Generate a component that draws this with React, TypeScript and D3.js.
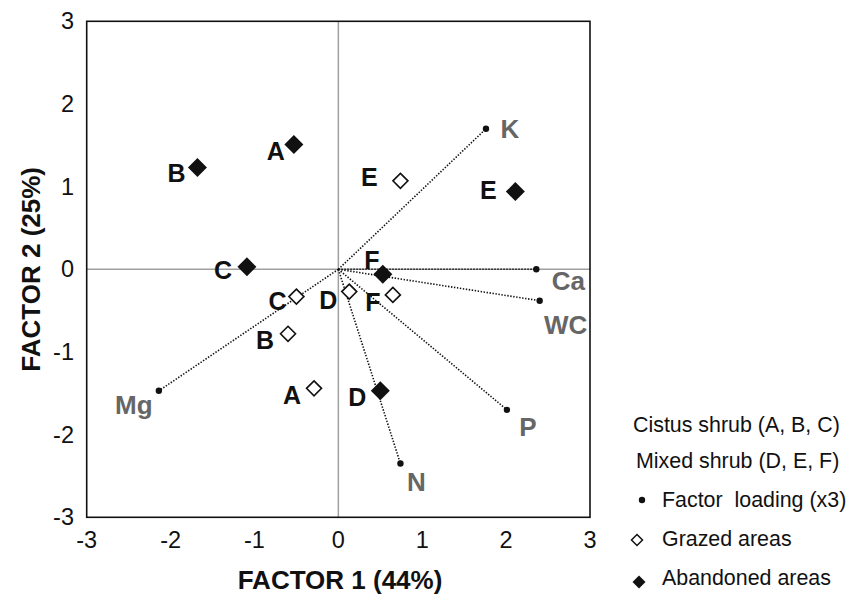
import React from "react";
import * as d3 from "d3";

const siteLetters = ["A", "B", "C", "D", "E", "F"];
const abandonedX = [-0.53, -1.68, -1.09, 0.5, 2.11, 0.53];
const abandonedY = [1.51, 1.23, 0.03, -1.47, 0.94, -0.06];
const grazedX = [-0.29, -0.6, -0.5, 0.13, 0.74, 0.65];
const grazedY = [-1.44, -0.78, -0.33, -0.27, 1.07, -0.31];
// label offsets in px (dx, dy) to position letters left of markers
const abandonedLabelDx = [-18, -21, -24, -23, -27, -11];
const abandonedLabelDy = [7, 5, 3, 6, -2, -14];
const grazedLabelDx = [-22, -23, -19, -21, -31, -20];
const grazedLabelDy = [7, 6, 4, 8, -4, 7];

const loadingNames = ["K", "Ca", "WC", "P", "N", "Mg"];
const loadingX = [1.76, 2.36, 2.4, 2.01, 0.74, -2.14];
const loadingY = [1.7, 0.0, -0.38, -1.7, -2.35, -1.47];
const loadingLabelDx = [24, 32, 26, 21, 16, -25];
const loadingLabelDy = [0, 12, 24, 17, 18, 14];

const ticks = [-3, -2, -1, 0, 1, 2, 3];
const xTitle = "FACTOR 1 (44%)";
const yTitle = "FACTOR 2 (25%)";
const legendText = [
  "Cistus shrub (A, B, C)",
  "Mixed shrub (D, E, F)",
  "Factor  loading (x3)",
  "Grazed areas",
  "Abandoned areas",
];

const W = 862;
const H = 594;
const left = 86.7, right = 590, top = 21.3, bottom = 517.3;
const font = "Arial, 'Liberation Sans', Helvetica, sans-serif";

export default function App() {
  const x = d3.scaleLinear().domain([-3, 3]).range([left, right]);
  const y = d3.scaleLinear().domain([-3, 3]).range([bottom, top]);
  const diamond = (cx: number, cy: number, r: number) =>
    `M${cx},${cy - r}L${cx + r},${cy}L${cx},${cy + r}L${cx - r},${cy}Z`;

  return (
    <div style={{ position: "absolute", left: 0, top: 0 }}>
      <svg width={W} height={H} style={{ display: "block" }} fontFamily={font}>
        <rect width={W} height={H} fill="#fff" />
        {/* zero lines */}
        <line x1={x(0)} x2={x(0)} y1={top} y2={bottom} stroke="#a0a0a0" strokeWidth={1.5} />
        <line x1={left} x2={right} y1={y(0)} y2={y(0)} stroke="#a0a0a0" strokeWidth={1.5} />
        {/* loading vectors */}
        {loadingNames.map((n, i) => (
          <line
            key={"l" + n}
            x1={x(0)}
            y1={y(0)}
            x2={x(loadingX[i])}
            y2={y(loadingY[i])}
            stroke="#111"
            strokeWidth={1.6}
            strokeDasharray="1.4,1.6"
          />
        ))}
        {loadingNames.map((n, i) => (
          <g key={"p" + n}>
            <circle cx={x(loadingX[i])} cy={y(loadingY[i])} r={3.2} fill="#111" />
            <text
              x={x(loadingX[i]) + loadingLabelDx[i]}
              y={y(loadingY[i]) + loadingLabelDy[i]}
              fontSize={26}
              fontWeight="bold"
              fill="#666"
              textAnchor="middle"
              dominantBaseline="central"
            >
              {n}
            </text>
          </g>
        ))}
        {/* grazed */}
        {siteLetters.map((s, i) => (
          <g key={"g" + s}>
            <path d={diamond(x(grazedX[i]), y(grazedY[i]), 7.5)} fill="#fff" stroke="#111" strokeWidth={1.6} />
            <text
              x={x(grazedX[i]) + grazedLabelDx[i]}
              y={y(grazedY[i]) + grazedLabelDy[i]}
              fontSize={25}
              fontWeight="bold"
              fill="#111"
              textAnchor="middle"
              dominantBaseline="central"
            >
              {s}
            </text>
          </g>
        ))}
        {/* abandoned */}
        {siteLetters.map((s, i) => (
          <g key={"a" + s}>
            <path d={diamond(x(abandonedX[i]), y(abandonedY[i]), 9.5)} fill="#111" />
            <text
              x={x(abandonedX[i]) + abandonedLabelDx[i]}
              y={y(abandonedY[i]) + abandonedLabelDy[i]}
              fontSize={25}
              fontWeight="bold"
              fill="#111"
              textAnchor="middle"
              dominantBaseline="central"
            >
              {s}
            </text>
          </g>
        ))}
        {/* frame */}
        <rect x={left} y={top} width={right - left} height={bottom - top} fill="none" stroke="#111" strokeWidth={1.6} />
        {/* ticks */}
        {ticks.map((t) => (
          <text key={"xt" + t} x={x(t)} y={540} fontSize={23.5} fill="#111" textAnchor="middle" dominantBaseline="central">
            {t}
          </text>
        ))}
        {ticks.map((t) => (
          <text key={"yt" + t} x={74} y={y(t)} fontSize={23.5} fill="#111" textAnchor="end" dominantBaseline="central">
            {t}
          </text>
        ))}
        <text x={340} y={589} fontSize={26} fontWeight="bold" fill="#111" textAnchor="middle">
          {xTitle}
        </text>
        <text
          transform={`translate(40,${y(0)}) rotate(-90)`}
          fontSize={26}
          fontWeight="bold"
          fill="#111"
          textAnchor="middle"
        >
          {yTitle}
        </text>
        {/* legend */}
        <text x={633} y={425} fontSize={21.4} fill="#111" dominantBaseline="central">{legendText[0]}</text>
        <text x={636} y={461} fontSize={21.4} fill="#111" dominantBaseline="central">{legendText[1]}</text>
        <circle cx={642} cy={500} r={3.2} fill="#111" />
        <text x={662} y={500} fontSize={21.4} fill="#111" dominantBaseline="central" style={{ whiteSpace: "pre" }}>
          {legendText[2]}
        </text>
        <path d={diamond(637, 540, 5.5)} fill="#fff" stroke="#111" strokeWidth={1.5} />
        <text x={662} y={539} fontSize={21.4} fill="#111" dominantBaseline="central">{legendText[3]}</text>
        <path d={diamond(639, 582, 6.5)} fill="#111" />
        <text x={662} y={578} fontSize={21.4} fill="#111" dominantBaseline="central">{legendText[4]}</text>
      </svg>
    </div>
  );
}
